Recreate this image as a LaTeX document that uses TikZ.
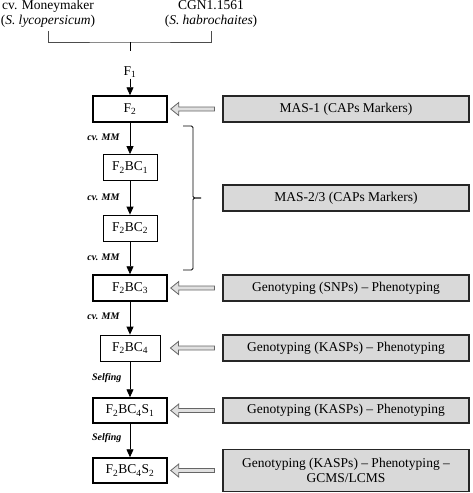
\documentclass[tikz,border=0pt]{standalone}
\usepackage{fontspec}
\setmainfont{Liberation Serif}
\usetikzlibrary{arrows.meta,calc}
\tikzset{
	box/.style={draw, line width=0.8pt, minimum height=26pt, inner sep=0pt, font=\fontsize{13.5}{15}\selectfont},
	bbox/.style={box, line width=1.5pt, minimum width=74pt},
	gbox/.style={draw=black!85, fill=black!15, line width=1.2pt, minimum width=246pt, minimum height=26pt, inner sep=0pt, align=center, font=\fontsize{13.5}{15}\selectfont},
	lbl/.style={anchor=east, font=\fontsize{10}{12}\selectfont\bfseries\itshape},
	down/.style={line width=0.8pt, -{Triangle[width=7pt,length=8pt]}},
	hollow/.style={draw=black!60, fill=black!12, line width=0.8pt,
		to path={($(\tikztostart)+(0,-2)$) -- ($(\tikztotarget)+(8,-2)$) -- ($(\tikztotarget)+(8,-6.5)$) -- (\tikztotarget)
			-- ($(\tikztotarget)+(8,6.5)$) -- ($(\tikztotarget)+(8,2)$) -- ($(\tikztostart)+(0,2)$) -- cycle}},
	brace/.style={line width=0.8pt, rounded corners=1.5pt}
}
\begin{document}
\begin{tikzpicture}[x=1pt,y=-1pt]
	\useasboundingbox (0,0) rectangle (473,493);
	% parents
	\node	(mm) at (48,14) [align=center, inner sep=0pt, font=\fontsize{13.5}{15}\selectfont] {cv. Moneymaker\\(\textit{S. lycopersicum})};
	\node	(cgn) at (211,14) [align=center, inner sep=0pt, font=\fontsize{13.5}{15}\selectfont] {CGN1.1561\\(\textit{S. habrochaites})};
	\coordinate (j) at (130,42);
	\node	(f1) at (130,72) [inner sep=1pt, font=\fontsize{13.5}{15}\selectfont] {F\textsubscript{1}};
	% generations
	\node	(f2) at (130,109) [bbox] {F\textsubscript{2}};
	\node	(bc1) at (130,167.5) [box, minimum width=54pt] {F\textsubscript{2}BC\textsubscript{1}};
	\node	(bc2) at (130,228) [box, minimum width=54pt] {F\textsubscript{2}BC\textsubscript{2}};
	\node	(bc3) at (130,288) [bbox] {F\textsubscript{2}BC\textsubscript{3}};
	\node	(bc4) at (130,348) [box, minimum width=60pt] {F\textsubscript{2}BC\textsubscript{4}};
	\node	(s1) at (130,410.5) [bbox, minimum height=25pt] {F\textsubscript{2}BC\textsubscript{4}S\textsubscript{1}};
	\node	(s2) at (130,470.5) [bbox, minimum height=25pt] {F\textsubscript{2}BC\textsubscript{4}S\textsubscript{2}};
	% methods
	\node	(m1) at (346,109) [gbox] {MAS-1 (CAPs Markers)};
	\node	(m2) at (346,198) [gbox] {MAS-2/3 (CAPs Markers)};
	\node	(m3) at (346,288) [gbox] {Genotyping (SNPs) -- Phenotyping};
	\node	(m4) at (346,348) [gbox] {Genotyping (KASPs) -- Phenotyping};
	\node	(m5) at (346,410.5) [gbox, minimum height=25pt] {Genotyping (KASPs) -- Phenotyping};
	\node	(m6) at (346,470.5) [gbox, minimum height=42pt] {Genotyping (KASPs) -- Phenotyping --\\GCMS/LCMS};
	% crosses
	\node	(l1) at (123,137) [lbl] {cv. MM};
	\node	(l2) at (123,197) [lbl] {cv. MM};
	\node	(l3) at (123,257) [lbl] {cv. MM};
	\node	(l4) at (123,316) [lbl] {cv. MM};
	\node	(l5) at (125,378) [lbl] {Selfing};
	\node	(l6) at (125,438) [lbl] {Selfing};
	\coordinate (bt) at (183,126);
	\coordinate (bb) at (183,270);
	\coordinate (bm) at (201,198);
	\draw[black!70, line width=0.8pt] ([yshift=-3pt]mm.south) |- (j) -| ([yshift=-3pt]cgn.south);
	\draw[line width=0.8pt] (j) -- ++(0,9);
	\draw 
	(f1) edge[down] (f2)
	(f2) edge[down] (bc1)
	(bc1) edge[down] (bc2)
	(bc2) edge[down] (bc3)
	(bc3) edge[down] (bc4)
	(bc4) edge[down] (s1)
	(s1) edge[down] (s2)
	;
	\draw[brace] (bt) -- ++(10,0) |- (bm);
	\draw[brace] (bb) -- ++(10,0) |- (bm);
	\draw[hollow] ([xshift=-8pt]m1.west) to ([xshift=3pt]f2.east);
	\draw[hollow] ([xshift=-8pt]m3.west) to ([xshift=3pt]bc3.east);
	\draw[hollow] ([xshift=-8pt]m4.west) to ([xshift=10pt]bc4.east);
	\draw[hollow] ([xshift=-8pt]m5.west) to ([xshift=3pt]s1.east);
	\draw[hollow] ([xshift=-8pt]m6.west) to ([xshift=3pt]s2.east);
\end{tikzpicture}
\end{document}
